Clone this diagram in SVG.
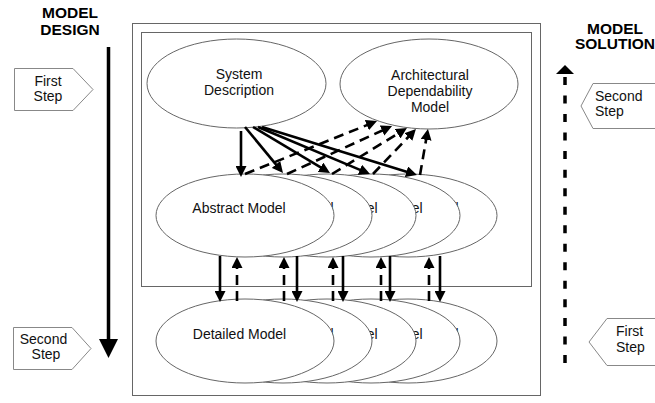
<svg xmlns="http://www.w3.org/2000/svg" width="655" height="403" viewBox="0 0 655 403">
<defs>
<style>
.box{fill:none;stroke:#666;stroke-width:1}
.ell{fill:#fff;stroke:#666;stroke-width:1}
.tag{fill:#fff;stroke:#888;stroke-width:1}
.t{font-family:"Liberation Sans",Arial,sans-serif;font-size:14px;fill:#111}
.tm{text-anchor:middle}
.h{font-family:"Liberation Sans",Arial,sans-serif;font-size:15.5px;font-weight:bold;fill:#000;text-anchor:middle}
.sol{fill:none;stroke:#000;stroke-width:2.6;marker-end:url(#ah)}
.dsh{fill:none;stroke:#000;stroke-width:2.6;stroke-dasharray:10 6;marker-end:url(#ah)}
</style>
<marker id="ah" markerUnits="userSpaceOnUse" markerWidth="11" markerHeight="11" refX="6" refY="5.5" orient="auto">
<path d="M0,0 L11,5.5 L0,11 z" fill="#000"/>
</marker>
</defs>
<rect width="655" height="403" fill="#fff"/>

<g id="frames">
<rect class="box" x="132.5" y="23.5" width="408" height="372"/>
<rect class="box" x="141.5" y="32.5" width="390" height="254"/>
</g>

<g id="model-design">
<text class="h" x="70" y="18">MODEL</text>
<text class="h" x="70" y="35">DESIGN</text>
<line x1="108.5" y1="47" x2="108.5" y2="341" stroke="#000" stroke-width="3.5"/>
<polygon points="99,339 118,339 108.5,358" fill="#000"/>
</g>

<g id="model-solution">
<text class="h" x="615" y="33.5">MODEL</text>
<text class="h" x="615" y="49">SOLUTION</text>
<polygon points="565,65 574,74 556,74" fill="#000"/>
<line x1="565" y1="77" x2="565" y2="363" stroke="#000" stroke-width="3.5" stroke-dasharray="8 10.53"/>
</g>

<g id="tag-first-left">
<polygon class="tag" points="14.5,68.5 73,68.5 93,89.5 73,110.5 14.5,110.5"/>
<text class="t tm" x="48" y="86">First</text>
<text class="t tm" x="48" y="101">Step</text>
</g>
<g id="tag-second-left">
<polygon class="tag" points="13.5,327.5 72,327.5 91,348.5 72,369.5 13.5,369.5"/>
<text class="t tm" x="43.5" y="344">Second</text>
<text class="t tm" x="46" y="359">Step</text>
</g>
<g id="tag-second-right">
<polygon class="tag" points="581,106 593,83.5 660,83.5 660,128.5 593,128.5"/>
<text class="t" x="595" y="101">Second</text>
<text class="t" x="595" y="116">Step</text>
</g>
<g id="tag-first-right">
<polygon class="tag" points="589,342 607,318.5 660,318.5 660,365.5 607,365.5"/>
<text class="t" x="616" y="336">First</text>
<text class="t" x="616" y="352">Step</text>
</g>

<g id="system-description">
<ellipse class="ell" cx="236.5" cy="83.5" rx="89.5" ry="44.5"/>
<text class="t tm" x="239" y="79">System</text>
<text class="t tm" x="239" y="95">Description</text>
</g>
<g id="architectural-dependability-model">
<ellipse class="ell" cx="429" cy="84" rx="89" ry="45"/>
<text class="t tm" x="430" y="79.5">Architectural</text>
<text class="t tm" x="430" y="95.5">Dependability</text>
<text class="t tm" x="430" y="111.5">Model</text>
</g>

<g id="abstract-model-5"><ellipse class="ell" cx="408" cy="215.5" rx="89" ry="41.5"/><text class="t tm" x="412" y="213">Abstract Model</text></g>
<g id="abstract-model-4"><ellipse class="ell" cx="371" cy="215.5" rx="89" ry="41.5"/><text class="t tm" x="376" y="213">Abstract Model</text></g>
<g id="abstract-model-3"><ellipse class="ell" cx="327" cy="215.5" rx="89" ry="41.5"/><text class="t tm" x="331" y="213">Abstract Model</text></g>
<g id="abstract-model-2"><ellipse class="ell" cx="283" cy="215.5" rx="89" ry="41.5"/><text class="t tm" x="287" y="213">Abstract Model</text></g>
<g id="abstract-model-1"><ellipse class="ell" cx="245" cy="215.5" rx="89" ry="41.5"/><text class="t tm" x="239" y="213">Abstract Model</text></g>

<g id="detailed-model-5"><ellipse class="ell" cx="408" cy="341" rx="89" ry="42"/><text class="t tm" x="412" y="339">Detailed Model</text></g>
<g id="detailed-model-4"><ellipse class="ell" cx="371" cy="341" rx="89" ry="42"/><text class="t tm" x="376" y="339">Detailed Model</text></g>
<g id="detailed-model-3"><ellipse class="ell" cx="327" cy="341" rx="89" ry="42"/><text class="t tm" x="331" y="339">Detailed Model</text></g>
<g id="detailed-model-2"><ellipse class="ell" cx="283" cy="341" rx="89" ry="42"/><text class="t tm" x="287" y="339">Detailed Model</text></g>
<g id="detailed-model-1"><ellipse class="ell" cx="245" cy="341" rx="89" ry="42"/><text class="t tm" x="239.5" y="339">Detailed Model</text></g>

<g id="connectors">
<path class="sol" d="M241,131 L241,172"/>
<path class="sol" d="M245,127 L279.8,169.1"/>
<path class="sol" d="M253,127 L325.7,170.4"/>
<path class="sol" d="M258,127 L365.4,172.1"/>
<path class="sol" d="M262,127 L412.2,173.5"/>
<path class="dsh" d="M245,174 L372.4,122.9"/>
<path class="dsh" d="M287,174 L387.5,128.1"/>
<path class="dsh" d="M332,174 L402.7,130.6"/>
<path class="dsh" d="M373,174 L412.5,132.6"/>
<path class="dsh" d="M420,175 L427.1,133.9"/>
<path class="sol" d="M220,256 L220,297"/>
<path class="sol" d="M297,256 L297,297"/>
<path class="sol" d="M343,256 L343,297"/>
<path class="sol" d="M390,256 L390,297"/>
<path class="sol" d="M440,256 L440,297"/>
<path class="dsh" d="M237,301 L237,262"/>
<path class="dsh" d="M284,301 L284,262"/>
<path class="dsh" d="M333,301 L333,262"/>
<path class="dsh" d="M381,301 L381,262"/>
<path class="dsh" d="M429,301 L429,262"/>
</g>
</svg>
